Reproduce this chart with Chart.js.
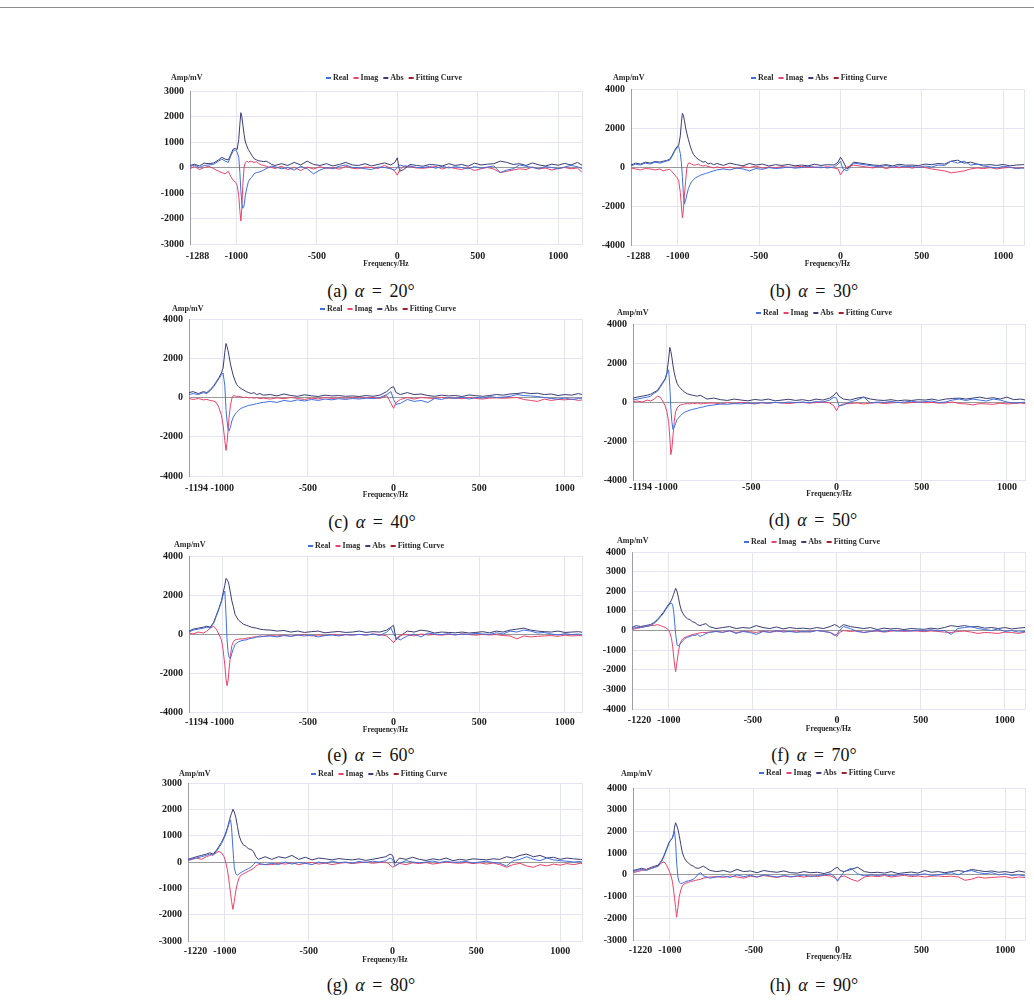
<!DOCTYPE html>
<html><head><meta charset="utf-8">
<script src="https://cdn.jsdelivr.net/npm/chart.js@4/dist/chart.umd.min.js"></script>
<style>
html,body{margin:0;padding:0;background:#fff;}
body{width:1034px;height:1001px;position:relative;overflow:hidden;}
#rule{position:absolute;left:0;top:7px;width:1034px;height:1px;background:#8c8c8c;}
.pane{position:absolute;}
.cap{position:absolute;font-family:'Liberation Serif','Times New Roman',serif;font-size:18px;color:#111;white-space:nowrap;transform:translate(-50%,-50%);word-spacing:3px;}
.cap i{font-style:italic;}
</style></head><body>
<div id="rule"></div>
<script>
// ---------- frequency grids (Hz) ----------
const freqCore = [
  -1170,-1140,-1110,-1090,-1070,-1050,-1035,-1020,-1005,-995,
  -985,-978,-972,-966,-960,-952,-944,-935,-925,-915,
  -904,-890,-875,-860,-845,-830,-815,-800,-780,-760,
  -720,-680,-640,-600,-560,-520,-480,-440,-400,-360,-320,-280,
  -240,-200,-160,-120,-80,-40,-15,0,15,40,80,120,
  160,200,240,280,320,360,400,440,480,520,560,600,
  640,680,720,760,800,840,880,920,960,1000,1040,1080,1120,1150
];
const freq1288 = [-1288,-1260,-1230,-1200].concat(freqCore);
const freq1194 = [-1194].concat(freqCore);
const freq1220 = [-1220,-1195].concat(freqCore);

const xTicks1288 = [-1288,-1000,-500,0,500,1000];
const xTicks1194 = [-1194,-1000,-500,0,500,1000];
const xTicks1220 = [-1220,-1000,-500,0,500,1000];

const seriesNames = ['Real','Imag','Abs','Fitting Curve'];
const panelLetters = ['a','b','c','d','e','f','g','h'];
const alphaDeg = [20,30,40,50,60,70,80,90];
const fitCurve = [];

// ---------- (a) alpha = 20 ----------
const absA = [80,130,60,170,
  150,180,300,400,330,300,500,720,750,700,
  1100,1700,2150,2000,1700,1300,1000,850,700,600,
  480,350,300,260,250,230,250,200,120,80,
  150,80,200,100,250,120,80,150,60,120,200,100,
  80,150,60,120,180,100,200,380,-150,-80,120,80,
  50,120,100,60,150,80,120,50,170,100,130,150,
  250,200,120,150,80,180,100,60,130,90,160,100,200,80];
const realA = [30,100,0,80,
  100,130,250,330,250,200,450,650,700,600,
  400,-200,-900,-1400,-1600,-1500,-1100,-800,-550,-450,
  -380,-250,-200,-180,-150,-100,-50,0,50,30,
  -50,0,-100,50,-50,-250,-100,0,-50,50,100,0,
  0,-50,-80,20,0,-50,-100,0,100,50,60,0,
  0,40,-30,50,-20,30,0,-50,40,-30,20,60,
  -200,-100,-50,100,50,0,-50,40,0,-50,20,80,30,-50];
const imagA = [-50,50,-80,0,
  50,-50,-150,-200,-250,-150,-350,-500,-580,-700,
  -1100,-1700,-2100,-1600,-700,0,200,250,200,250,
  230,200,220,150,100,80,50,20,0,-40,
  50,-80,0,-120,20,-60,30,-40,0,-70,50,-30,
  -50,20,0,-40,80,-30,-150,-300,-100,60,30,-20,
  -30,0,40,-60,20,-40,-80,0,-120,-50,0,-60,
  -200,-150,-100,-50,-80,20,-60,-20,-100,-40,0,-50,-20,-200];

// ---------- (b) alpha = 30 ----------
const absB = [100,200,150,250,
  200,280,250,300,330,400,600,850,1050,1100,
  1600,2300,2750,2650,2400,2000,1700,1400,1100,850,
  650,500,400,320,250,280,150,200,120,180,
  80,200,120,60,180,100,150,50,120,80,130,60,
  100,60,140,80,120,100,250,500,300,-100,250,200,
  150,100,80,120,60,140,90,100,70,150,120,180,
  150,300,350,200,250,150,100,120,80,130,60,100,120,150];
const realB = [50,150,100,200,
  150,250,200,250,300,350,550,800,1000,1050,
  700,200,-500,-1400,-1900,-1700,-1400,-1100,-900,-750,
  -650,-550,-480,-420,-380,-330,-300,-250,-200,-150,
  -100,-150,-50,-100,-200,-80,-120,-30,-80,-50,0,-60,
  -30,40,-20,0,-50,0,150,300,-100,-200,200,150,
  100,50,0,80,-20,60,0,40,-30,50,0,100,
  80,300,200,300,100,150,50,0,-50,30,0,-80,-50,-100];
const imagB = [-50,-100,-150,-80,
  -100,-150,-100,-200,-150,-120,-250,-400,-550,-700,
  -1300,-2000,-2600,-2200,-1500,-700,0,200,200,150,
  100,100,150,80,50,80,30,0,-50,0,
  -50,0,-80,20,-30,50,-60,0,-40,20,-20,0,
  30,-20,0,-40,20,-50,-100,-400,-200,0,100,50,
  0,-50,30,-80,0,-40,20,-60,10,-30,-100,-150,
  -200,-300,-250,-200,-100,-50,-80,-30,-100,-50,-20,-60,-40,-80];

// ---------- (c) alpha = 40 ----------
const absC = [250,
  300,200,300,250,400,600,800,1000,1250,1500,
  2300,2750,2600,2400,2100,1700,1400,1100,850,650,
  550,450,380,300,250,200,250,150,200,120,
  150,80,180,100,60,140,90,50,120,80,100,60,
  80,50,100,60,120,300,500,550,250,150,250,150,
  180,100,60,120,80,100,50,130,90,60,100,150,
  120,180,200,250,200,220,150,180,100,150,120,200,100,150];
const realC = [150,
  200,150,250,200,350,550,750,950,1150,1250,
  600,-600,-1200,-1600,-1700,-1500,-1200,-1000,-850,-750,
  -650,-550,-500,-450,-400,-380,-350,-320,-280,-250,
  -200,-250,-150,-200,-120,-180,-100,-150,-80,-120,-60,-100,
  -50,-80,-30,-60,0,150,300,-100,-350,-300,-100,-200,
  -150,-250,-50,-100,0,-50,20,-80,0,-30,50,0,
  20,60,150,100,80,50,0,-50,-80,-30,-100,-50,-20,-80];
const imagC = [-50,
  -100,-50,-120,-100,-150,-180,-250,-500,-900,-1400,
  -2200,-2700,-2300,-1700,-1000,-400,-50,100,80,50,
  60,30,0,20,-20,0,-40,0,-60,-30,
  -80,-20,-60,0,-50,-100,-30,-70,0,-50,-20,-40,
  0,-30,-20,0,-50,100,-300,-550,-250,-100,0,-80,
  0,-30,-50,0,-40,-20,-60,0,-50,-80,-30,-20,
  -40,-20,0,-100,-150,-200,-80,-150,-100,-120,-80,-150,-100,-80];

// ---------- (d) alpha = 50 ----------
const absD = [200,
  250,300,350,400,500,600,800,1000,1200,1500,
  2200,2800,2600,2300,1900,1500,1200,950,800,700,
  600,500,420,380,350,320,300,350,250,150,
  200,120,80,150,100,60,130,90,150,60,100,140,
  80,120,60,150,100,200,350,500,300,150,100,200,
  250,150,100,80,120,60,100,80,120,100,150,80,
  150,180,200,150,200,250,180,220,150,250,120,150,80,100];
const realD = [100,
  150,200,250,300,450,550,750,950,1150,1450,
  1650,800,-300,-1000,-1400,-1300,-1100,-900,-800,-700,
  -600,-520,-460,-420,-380,-350,-320,-280,-250,-200,
  -150,-100,-120,-80,-100,-50,-80,-30,-60,-20,-50,0,
  -30,0,-40,20,0,100,250,200,-200,-150,0,100,
  250,-50,0,-20,30,-30,0,40,-10,20,50,-30,
  0,100,150,80,150,100,50,150,100,0,-50,-30,0,-80];
const imagD = [0,
  50,0,100,50,150,300,250,50,-200,-500,
  -1000,-1800,-2700,-2400,-1800,-1000,-500,-300,-200,-150,
  -120,-100,-80,-100,-60,-80,-50,-100,-80,-60,
  -50,-100,-30,-80,-20,-60,-100,-40,-70,-20,-50,-80,
  -40,-20,-60,-30,0,-50,-200,-450,-200,-100,-80,-50,
  -100,-60,-30,-80,-50,-20,-60,-30,0,-40,-20,-60,
  -50,0,-80,-100,-150,-80,-100,-120,-60,-100,-80,-50,-100,-60];

// ---------- (e) alpha = 60 ----------
const absE = [150,
  250,300,350,400,350,600,950,1300,1700,2100,
  2500,2850,2800,2700,2500,2100,1700,1400,1000,850,
  700,600,500,450,400,350,320,300,250,220,
  200,150,180,100,150,80,120,150,60,100,130,80,
  100,150,80,120,100,200,350,450,-300,-100,150,100,
  200,150,50,100,80,60,100,50,80,120,60,150,
  100,200,250,300,200,150,120,100,150,80,100,120,60,100];
const realE = [100,
  200,250,300,350,300,550,900,1250,1650,2000,
  2200,1000,-300,-900,-1200,-1250,-1000,-750,-550,-450,
  -400,-350,-320,-300,-250,-220,-200,-150,-150,-120,
  -100,-150,-80,-120,-50,-100,-60,-150,-80,-50,-100,-30,
  -60,-20,-50,0,-80,100,300,0,-200,-300,-100,0,
  -150,50,0,-30,20,-50,0,-20,30,0,-20,60,
  0,150,100,200,150,50,80,0,-50,20,-30,0,-80,-50];
const imagE = [50,
  0,100,50,150,300,400,250,0,-300,-800,
  -1600,-2300,-2650,-2400,-1800,-1100,-600,-400,-300,-280,
  -260,-250,-250,-220,-200,-180,-150,-150,-100,-120,
  -80,-100,-50,-120,-60,-30,-100,-50,-80,-20,-60,-40,
  -50,-20,-60,0,-30,-100,-300,-450,-250,-50,-30,-100,
  0,-50,-30,-60,-20,-40,0,-30,-60,-20,-50,-30,
  -80,-100,-250,-100,-150,-120,-100,-80,-120,-60,-100,-80,-100,-120];

// ---------- (f) alpha = 70 ----------
const absF = [150,250,
  200,250,300,400,550,750,900,1100,1300,1400,
  1550,1700,1850,2000,2150,2000,1700,1300,1000,850,
  700,600,550,450,400,300,250,300,350,200,
  100,150,200,100,150,120,250,150,100,180,80,150,
  100,120,80,150,100,200,300,250,150,300,200,150,
  100,150,50,120,80,100,50,100,80,60,120,80,
  150,250,200,250,180,200,120,150,100,150,80,120,150,100];
const realF = [100,150,
  150,200,250,350,500,700,850,1050,1250,1350,
  1400,1300,1000,400,-200,-700,-800,-700,-600,-500,
  -400,-350,-300,-250,-250,-200,-300,-250,-150,-100,
  -50,-100,0,-150,-50,-100,-200,-50,-100,0,-80,-50,
  -100,-50,-80,0,-50,-100,-250,-200,0,200,100,-50,
  -100,-50,0,-60,20,-40,0,-30,20,-20,40,-20,
  0,-200,100,150,200,100,50,0,80,-50,0,-80,-50,-100];
const imagF = [50,100,
  150,200,250,250,300,250,200,150,50,-100,
  -400,-800,-1300,-1800,-2100,-1600,-1100,-700,-500,-400,
  -350,-300,-250,-200,-180,-150,-120,-100,-100,-80,
  -50,-80,-30,-100,-50,-60,-100,-30,-80,-50,-30,-60,
  -30,-80,-50,0,-40,-100,-200,-300,-100,0,-50,-20,
  -100,-50,-30,-80,-40,0,-50,-20,-30,-60,-20,-50,
  -80,-100,-50,-30,-80,-150,-100,-120,-150,-80,-100,-150,-80,-100];

// ---------- (g) alpha = 80 ----------
const absG = [100,150,
  200,250,300,350,300,450,600,750,950,1100,
  1300,1450,1600,1750,1850,2000,1900,1700,1350,1000,
  800,650,600,500,480,400,200,100,150,200,
  100,200,150,250,100,180,80,150,120,80,130,100,
  80,120,60,100,150,200,300,250,-50,150,100,180,
  100,60,120,80,150,50,100,70,120,100,80,120,
  100,200,150,250,300,200,250,150,180,100,150,120,100,80];
const realG = [80,120,
  150,200,250,300,250,400,550,700,900,1050,
  1250,1400,1550,1600,1300,500,-200,-450,-500,-450,
  -400,-350,-300,-250,-200,-100,0,-50,-80,-100,
  -50,-100,0,-80,-20,-50,-100,0,-50,30,-30,0,
  -50,20,-20,30,0,50,150,100,-150,-50,50,0,
  -30,0,40,-20,30,-10,0,20,-40,0,30,-20,
  -50,-150,50,100,200,100,50,150,80,50,30,0,20,-50];
const imagG = [50,100,
  150,100,200,250,300,350,400,350,200,0,
  -300,-600,-900,-1200,-1500,-1800,-1500,-1100,-800,-600,
  -500,-450,-400,-350,-300,-250,-150,-100,-80,-100,
  -100,-50,-80,-30,-100,-50,-20,-80,-40,-100,-50,-20,
  -60,-30,0,-50,-20,0,-100,-200,-150,-50,-100,-30,
  -60,-20,-80,-40,0,-30,-50,-20,-60,-30,-80,-40,
  -100,-200,-100,-50,-150,-200,-100,-150,-80,-120,-60,-100,-50,-80];

// ---------- (h) alpha = 90 ----------
const absH = [200,250,
  300,250,350,400,450,650,900,1200,1500,1600,
  1700,1900,2200,2400,2300,2100,1800,1400,1000,800,
  650,550,450,400,320,300,350,400,300,200,
  150,200,120,250,150,180,100,200,150,120,180,100,
  80,150,100,120,60,150,300,350,200,150,250,350,
  150,100,120,80,150,60,100,130,80,200,120,150,
  100,150,200,150,250,200,150,180,120,150,100,180,120,150];
const realH = [150,200,
  250,200,300,350,400,600,850,1150,1450,1600,
  1700,1850,2000,1500,600,-100,-350,-400,-380,-350,
  -300,-280,-250,-200,-100,50,100,-50,-100,-150,
  -100,-50,-120,0,-80,-20,-100,0,-50,-100,-30,-80,
  -50,0,-80,-30,0,50,-100,-300,-100,150,300,50,
  -50,0,-30,20,-50,0,30,-20,0,50,-30,0,
  50,100,0,150,200,100,50,100,0,50,-30,0,-50,-80];
const imagH = [100,150,
  200,250,300,350,400,550,600,450,200,0,
  -300,-700,-1100,-1500,-1950,-1500,-1000,-700,-500,-420,
  -380,-350,-300,-280,-250,-220,-200,-150,-120,-100,
  -80,-120,-50,-100,-150,-60,-100,-30,-80,-120,-50,-100,
  -60,-100,-40,-80,-20,-50,-150,-250,-100,-50,-200,-300,
  -100,-50,-80,-30,-100,-60,-20,-80,-50,-100,-60,-50,
  -80,-60,-100,-250,-200,-100,-150,-120,-100,-80,-150,-100,-120,-150];

// ---------- styling / layout (not data) ----------
const COLORS = ['#3f6fe0','#ec4269','#3a3c72','#a31d2f'];
const GRID = '#e4e4f2';
const SERIF = '"Liberation Serif","Times New Roman",serif';

const panels = [
  {freq:freq1288, s:[realA,imagA,absA], xTicks:xTicks1288, xMax:1148, yMin:-3000, yMax:3000, yStep:1000,
   area:{l:190,t:91,r:582,b:244}, legend:[326,78], amp:[171,78], tickY:255, titleY:264, cap:[371,291]},
  {freq:freq1288, s:[realB,imagB,absB], xTicks:xTicks1288, xMax:1128, yMin:-4000, yMax:4000, yStep:2000,
   area:{l:631,t:89,r:1024,b:245}, legend:[751,78], amp:[613,78], tickY:255, titleY:264, cap:[814,291]},
  {freq:freq1194, s:[realC,imagC,absC], xTicks:xTicks1194, xMax:1100, yMin:-4000, yMax:4000, yStep:2000,
   area:{l:189,t:319,r:582,b:476}, legend:[320,309], amp:[172,309], tickY:487, titleY:495, cap:[372,522]},
  {freq:freq1194, s:[realD,imagD,absD], xTicks:xTicks1194, xMax:1106, yMin:-4000, yMax:4000, yStep:2000,
   area:{l:633,t:324,r:1025,b:480}, legend:[756,313], amp:[617,313], tickY:486, titleY:494, cap:[813,520]},
  {freq:freq1194, s:[realE,imagE,absE], xTicks:xTicks1194, xMax:1100, yMin:-4000, yMax:4000, yStep:2000,
   area:{l:189,t:556,r:582,b:712}, legend:[308,546], amp:[174,545], tickY:721, titleY:730, cap:[371,755]},
  {freq:freq1220, s:[realF,imagF,absF], xTicks:xTicks1220, xMax:1120, yMin:-4000, yMax:4000, yStep:1000,
   area:{l:632,t:552,r:1025,b:709}, legend:[744,542], amp:[617,541], tickY:719, titleY:729, cap:[814,755]},
  {freq:freq1220, s:[realG,imagG,absG], xTicks:xTicks1220, xMax:1130, yMin:-3000, yMax:3000, yStep:1000,
   area:{l:188,t:783,r:582,b:941}, legend:[311,774], amp:[179,774], tickY:950, titleY:960, cap:[371,985]},
  {freq:freq1220, s:[realH,imagH,absH], xTicks:xTicks1220, xMax:1118, yMin:-3000, yMax:4000, yStep:1000,
   area:{l:633,t:788,r:1025,b:940}, legend:[759,773], amp:[621,774], tickY:949, titleY:957, cap:[814,985]}
];

function buildPanel(p, i){
  const YW = 46, PT = 24, PR = 2;
  const XH = Math.round(p.titleY - p.area.b + 5);
  const cl = p.area.l - YW, ct = p.area.t - PT;
  const w = p.area.r - cl + PR, h = p.area.b - ct + XH;
  const tickPad = Math.max(0, Math.round(p.tickY - p.area.b - 5.5));

  const wrap = document.createElement('div');
  wrap.className = 'pane';
  wrap.style.left = cl + 'px'; wrap.style.top = ct + 'px';
  wrap.style.width = w + 'px'; wrap.style.height = h + 'px';
  const cv = document.createElement('canvas');
  cv.width = w; cv.height = h;
  cv.style.width = w + 'px'; cv.style.height = h + 'px';
  wrap.appendChild(cv);
  document.body.appendChild(wrap);

  const toPts = arr => p.freq.map((f, k) => ({x: f, y: arr[k]}));
  const datasets = seriesNames.map((name, k) => ({
    label: name,
    data: k < 3 ? toPts(p.s[k]) : fitCurve,
    borderColor: COLORS[k],
    backgroundColor: COLORS[k],
    borderWidth: 1,
    pointRadius: 0,
    tension: 0,
    fill: false
  }));

  const overlay = {
    id: 'overlay' + i,
    afterDraw(chart){
      const ctx = chart.ctx;
      ctx.save();
      ctx.font = 'bold 8px ' + SERIF;
      ctx.textBaseline = 'middle';
      ctx.textAlign = 'left';
      let x = p.legend[0] - cl;
      const y = p.legend[1] - ct;
      chart.data.datasets.forEach(ds => {
        ctx.fillStyle = ds.borderColor;
        ctx.fillRect(x, y - 1, 5, 2);
        x += 7;
        ctx.fillStyle = '#2a2a2a';
        ctx.fillText(ds.label, x, y);
        x += ctx.measureText(ds.label).width + 5;
      });
      ctx.fillStyle = '#2a2a2a';
      ctx.fillText('Amp/mV', p.amp[0] - cl, p.amp[1] - ct);
      ctx.restore();
    }
  };

  const tickSet = p.xTicks.concat([p.xMax]);
  new Chart(cv, {
    type: 'line',
    data: {datasets},
    plugins: [overlay],
    options: {
      responsive: false,
      animation: false,
      devicePixelRatio: 1,
      layout: {padding: {top: PT, left: 0, right: PR, bottom: 0}},
      plugins: {legend: {display: false}, tooltip: {enabled: false}, title: {display: false}},
      scales: {
        x: {
          type: 'linear',
          min: p.freq[0], max: p.xMax,
          afterBuildTicks: ax => { ax.ticks = tickSet.map(v => ({value: v})); },
          afterFit: ax => { ax.height = XH; ax.paddingRight = 0; ax.paddingLeft = 0; },
          grid: {color: GRID, lineWidth: 1, drawTicks: false},
          border: {display: true, color: GRID},
          ticks: {autoSkip: false, maxRotation: 0, padding: tickPad, color: '#1a1a1a',
                  font: {family: SERIF, size: 10, weight: 'bold'},
                  callback: (v, idx) => v === p.xMax ? '' : (idx === 0 ? '\u2007\u2007\u2007' + v : String(v))},
          title: {display: true, text: 'Frequency/Hz', color: '#222', padding: {top: 0, bottom: 0},
                  font: {family: SERIF, size: 7.5, weight: 'bold'}}
        },
        y: {
          min: p.yMin, max: p.yMax,
          afterFit: ax => { ax.width = YW; },
          grid: {color: c => (c.tick && c.tick.value === 0) ? '#9a9a9a' : GRID, lineWidth: 1, drawTicks: false},
          border: {display: true, color: '#9d9dab', width: 1},
          ticks: {stepSize: p.yStep, padding: 6, color: '#1a1a1a',
                  font: {family: SERIF, size: 10, weight: 'bold'}, callback: v => String(v)}
        }
      }
    }
  });

  const cap = document.createElement('div');
  cap.className = 'cap';
  cap.innerHTML = '(' + panelLetters[i] + ') <i>\u03b1</i> = ' + alphaDeg[i] + '\u00b0';
  cap.style.left = p.cap[0] + 'px';
  cap.style.top = p.cap[1] + 'px';
  document.body.appendChild(cap);
}

panels.forEach(buildPanel);
</script>
</body></html>
